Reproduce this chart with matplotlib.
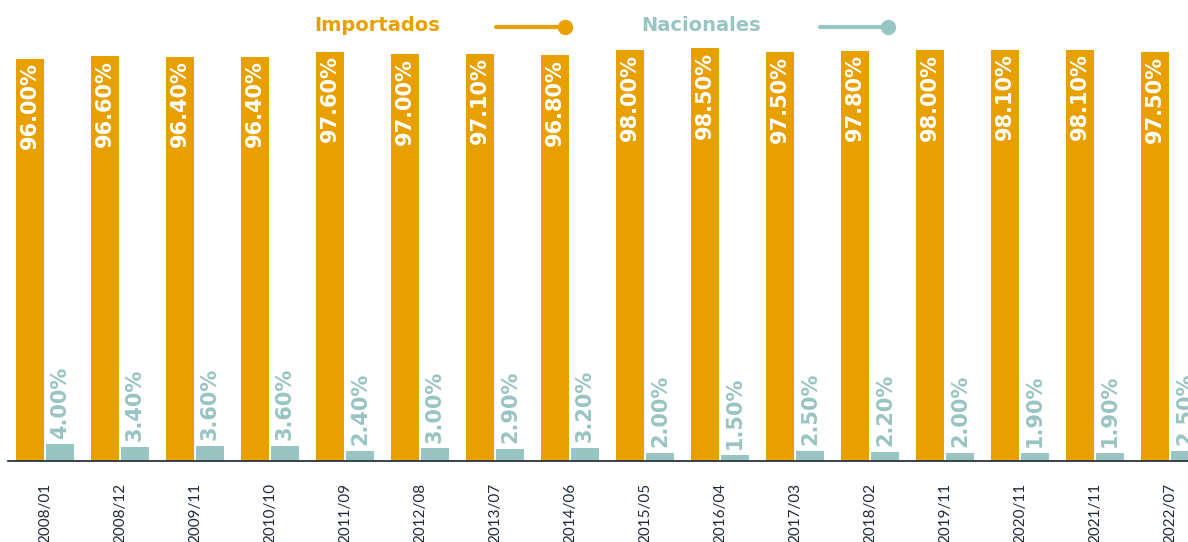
import matplotlib
matplotlib.use("Agg")
import matplotlib.pyplot as plt
from matplotlib.lines import Line2D
import numpy as np

categories = ["2008/01", "2008/12", "2009/11", "2010/10", "2011/09", "2012/08",
              "2013/07", "2014/06", "2015/05", "2016/04", "2017/03", "2018/02",
              "2019/11", "2020/11", "2021/11", "2022/07"]
importados = [96.0, 96.6, 96.4, 96.4, 97.6, 97.0, 97.1, 96.8, 98.0, 98.5,
              97.5, 97.8, 98.0, 98.1, 98.1, 97.5]
nacionales = [4.0, 3.4, 3.6, 3.6, 2.4, 3.0, 2.9, 3.2, 2.0, 1.5,
              2.5, 2.2, 2.0, 1.9, 1.9, 2.5]

ORANGE = "#E8A000"
TEAL = "#98C4C2"
W, H = 1188, 542

fig = plt.figure(figsize=(W / 100, H / 100), dpi=100)
ax = fig.add_axes([8 / W, (H - 461) / H, (W - 8) / W, 461 / H])

x = np.arange(len(categories))
bw = 0.373
off = 0.2
b1 = ax.bar(x - off, importados, bw, color=ORANGE)
b2 = ax.bar(x + off, nacionales, bw, color=TEAL)

for rect, v in zip(b1, importados):
    ax.annotate(f"{v:.2f}%", (rect.get_x() + rect.get_width() / 2, rect.get_height()),
                xytext=(0, -2.5), textcoords="offset points", rotation=90,
                ha="center", va="top", color="white", fontsize=15,
                fontweight="bold", family="DejaVu Sans")
for rect, v in zip(b2, nacionales):
    ax.annotate(f"{v:.2f}%", (rect.get_x() + rect.get_width() / 2, rect.get_height()),
                xytext=(0, 4), textcoords="offset points", rotation=90,
                ha="center", va="bottom", color=TEAL, fontsize=15,
                fontweight="bold", family="DejaVu Sans")

ax.set_xlim((8 - 45) / 75, (W - 45) / 75)
ax.set_ylim(0, 110)
ax.set_xticks(x)
ax.set_xticklabels(categories, rotation=90, fontsize=11, color="#1f2a36",
                   family="Lato")
ax.tick_params(axis="x", length=0, pad=16)
ax.set_yticks([])
for s in ["top", "right", "left"]:
    ax.spines[s].set_visible(False)
ax.spines["bottom"].set_color("#2a3340")
ax.spines["bottom"].set_linewidth(1.3)
ax.patch.set_alpha(0)

# legend drawn manually
def fx(px):
    return px / W

def fy(py):
    return 1 - py / H

fig.text(fx(314), fy(31), "Importados", color=ORANGE, fontsize=14,
         fontweight="bold", va="baseline", ha="left", family="DejaVu Sans")
fig.add_artist(Line2D([fx(496), fx(565)], [fy(27), fy(27)], color=ORANGE, lw=3,
                      solid_capstyle="round", transform=fig.transFigure))
fig.add_artist(Line2D([fx(565)], [fy(27)], marker="o", markersize=10, color=ORANGE,
                      transform=fig.transFigure))
fig.text(fx(641), fy(31), "Nacionales", color=TEAL, fontsize=14,
         fontweight="bold", va="baseline", ha="left", family="DejaVu Sans")
fig.add_artist(Line2D([fx(820), fx(888)], [fy(27), fy(27)], color=TEAL, lw=3,
                      solid_capstyle="round", transform=fig.transFigure))
fig.add_artist(Line2D([fx(888)], [fy(27)], marker="o", markersize=10, color=TEAL,
                      transform=fig.transFigure))

fig.savefig("out.png", dpi=100)
